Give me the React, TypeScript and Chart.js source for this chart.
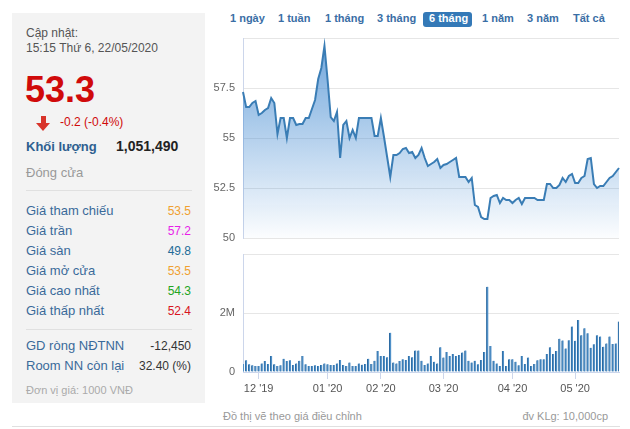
import React, { useEffect, useRef } from "react";
import { Chart, registerables } from "chart.js";

Chart.register(...registerables);

const FONT = "Arial, 'Liberation Sans', Helvetica, sans-serif";

// Trading-day calendar (categories)
const START_DATE = "2019-11-25";
const END_DATE = "2020-05-22";
const HOLIDAYS = [
  "2020-01-01", "2020-01-23", "2020-01-24", "2020-01-27", "2020-01-28", "2020-01-29",
  "2020-04-02", "2020-04-30", "2020-05-01",
];

// Closing prices (x1000 VND), one per trading day
const PRICES = [
  57.3, 56.55, 56.55, 56.75, 56.85, 56.15, 56.25, 56.4, 56.5, 57.0,
  56.75, 55.2, 56.0, 56.0, 55.0, 56.0, 56.0, 55.65, 55.7, 55.7,
  56.0, 56.0, 56.45, 56.9, 57.95, 58.5, 59.6, 57.9, 56.05, 55.85,
  56.3, 54.0, 55.65, 55.85, 55.0, 55.4, 55.0, 56.0, 56.0, 56.0,
  56.0, 56.0, 55.1, 55.1, 56.0, 55.05, 54.05, 53.05, 54.15, 54.15,
  54.25, 54.45, 54.5, 54.25, 54.3, 54.0, 54.15, 54.5, 54.0, 53.6,
  53.7, 53.8, 53.95, 53.5, 53.65, 53.7, 53.8, 53.9, 54.0, 53.05,
  53.05, 53.05, 52.8, 53.0, 51.65, 51.55, 51.05, 50.95, 50.95, 52.0,
  52.1, 52.15, 51.75, 52.0, 51.9, 51.9, 51.75, 51.9, 52.0, 51.7,
  52.0, 52.0, 52.0, 52.0, 51.9, 51.9, 51.9, 52.7, 52.7, 52.5,
  52.5, 52.65, 53.0, 52.8, 53.1, 53.2, 52.75, 52.75, 53.0, 53.1,
  53.95, 54.0, 52.7, 52.5, 52.6, 52.6, 52.8, 53.0, 53.1, 53.3,
  53.5,
];

// Volumes in millions of shares
const VOLUMES = [
  0.27, 0.40, 0.26, 0.23, 0.20, 0.20, 0.29, 0.37, 0.27, 0.54,
  0.26, 0.20, 0.23, 0.45, 0.37, 0.40, 0.24, 0.29, 0.38, 0.54,
  0.26, 0.20, 0.20, 0.23, 0.20, 0.24, 0.29, 0.26, 0.24, 0.24,
  0.29, 0.41, 0.24, 0.20, 0.32, 0.20, 0.20, 0.29, 0.25, 0.27,
  0.45, 0.27, 0.38, 0.71, 0.54, 0.54, 0.50, 1.33, 0.32, 0.29,
  0.37, 0.43, 0.41, 0.54, 0.50, 0.73, 0.73, 0.38, 0.24, 0.29,
  0.54,
  0.35, 0.29, 0.84, 0.49, 0.68, 0.54, 0.61, 0.54, 0.58, 0.66,
  0.73, 0.38, 0.32, 0.38, 0.26, 0.41, 0.68, 2.89, 0.88, 0.38,
  0.29, 0.20, 0.71, 0.20, 0.43, 0.43, 0.35, 0.23, 0.54, 0.27,
  0.49, 0.20, 0.27, 0.40, 0.43, 0.43, 0.61, 0.84, 0.61, 0.71,
  1.13, 1.07, 0.80, 1.08, 1.54, 1.06, 1.76, 1.25, 1.48, 1.31,
  0.82, 0.94, 1.25, 1.20, 0.86, 0.97, 1.20, 0.95, 0.97, 1.71,
];

const PRICE_MIN = 50;
const PRICE_MAX = 60;
const PRICE_STEP = 2.5;
const VOL_MIN = 0;
const VOL_MAX = 4;
const VOL_STEP = 2;

const TABS = ["1 ngày", "1 tuần", "1 tháng", "3 tháng", "6 tháng", "1 năm", "3 năm", "Tất cả"];
const TAB_X = [230, 278, 325, 377, 429, 482, 527, 573];
const ACTIVE_TAB = "6 tháng";

const STATS: [string, string, string][] = [
  ["Giá tham chiếu", "53.5", "#f0a030"],
  ["Giá trần", "57.2", "#e81ee8"],
  ["Giá sàn", "49.8", "#226c98"],
  ["Giá mở cửa", "53.5", "#f0a030"],
  ["Giá cao nhất", "54.3", "#22a522"],
  ["Giá thấp nhất", "52.4", "#d8141e"],
];
const FOREIGN: [string, string][] = [
  ["GD ròng NĐTNN", "-12,450"],
  ["Room NN còn lại", "32.40 (%)"],
];

function tradingDays(): string[] {
  const out: string[] = [];
  const d = new Date(START_DATE + "T00:00:00Z");
  const end = new Date(END_DATE + "T00:00:00Z");
  while (d <= end) {
    const iso = d.toISOString().slice(0, 10);
    const wd = d.getUTCDay();
    if (wd !== 0 && wd !== 6 && !HOLIDAYS.includes(iso)) out.push(iso);
    d.setUTCDate(d.getUTCDate() + 1);
  }
  return out;
}
const DATES = tradingDays();

function monthLabel(i: number): string | null {
  if (i <= 0) return null;
  const cur = DATES[i];
  const prev = DATES[i - 1];
  if (!cur || !prev || cur.slice(5, 7) === prev.slice(5, 7)) return null;
  return cur.slice(5, 7) + " '" + cur.slice(2, 4);
}

function Txt(props: any) {
  const { x, base, size, color, bold, right, children } = props;
  const style: React.CSSProperties = {
    position: "absolute",
    top: base - 0.847 * size,
    fontSize: size,
    lineHeight: size + "px",
    color,
    fontWeight: bold ? "bold" : "normal",
    whiteSpace: "nowrap",
    fontFamily: FONT,
  };
  if (right) style.right = 630 - x;
  else style.left = x;
  return <div style={style}>{children}</div>;
}

const fitY = (s: any) => {
  s.width = 38;
  s.paddingTop = 0;
  s.paddingBottom = 0;
};
const fitX = (s: any) => {
  s.height = 23;
  s.paddingLeft = 0;
  s.paddingRight = 0;
};

export default function App() {
  const priceRef = useRef<HTMLCanvasElement>(null);
  const volRef = useRef<HTMLCanvasElement>(null);

  useEffect(() => {
    document.body.style.margin = "0";
    const tickFont = { family: FONT, size: 11 };
    const priceChart = new Chart(priceRef.current!, {
      type: "line",
      data: {
        labels: DATES,
        datasets: [
          {
            data: PRICES,
            borderColor: "#3a7db5",
            borderWidth: 2,
            pointRadius: 0,
            tension: 0,
            fill: "start",
            backgroundColor: (ctx: any) => {
              const chart = ctx.chart;
              const area = chart.chartArea;
              if (!area) return "rgba(70,140,210,0.3)";
              const g = chart.ctx.createLinearGradient(0, area.top, 0, area.bottom);
              g.addColorStop(0, "rgba(70,140,210,0.78)");
              g.addColorStop(0.5, "rgba(70,140,210,0.4)");
              g.addColorStop(1, "rgba(70,140,210,0.02)");
              return g;
            },
          },
        ],
      },
      options: {
        animation: false,
        responsive: false,
        maintainAspectRatio: false,
        layout: { padding: { top: 8, right: 11, bottom: 7, left: 0 } },
        plugins: { legend: { display: false }, tooltip: { enabled: false } },
        scales: {
          x: { display: false, offset: false },
          y: {
            min: PRICE_MIN,
            max: PRICE_MAX,
            afterFit: fitY,
            ticks: {
              stepSize: PRICE_STEP,
              color: "#666",
              font: tickFont,
              padding: 8,
              callback: (v: any) => (v === PRICE_MAX ? "" : String(v)),
            },
            grid: { color: "#e6e6e6", drawTicks: false },
            border: { display: true, color: "#ccd6eb" },
          },
        },
      },
    } as any);

    const volChart = new Chart(volRef.current!, {
      type: "bar",
      data: {
        labels: DATES,
        datasets: [
          {
            data: VOLUMES,
            backgroundColor: "#4f90c8",
            borderColor: "#2a68a0",
            borderWidth: { left: 1, right: 0, top: 0, bottom: 0 },
            borderSkipped: false,
            barThickness: 2,
          },
        ],
      },
      options: {
        animation: false,
        responsive: false,
        maintainAspectRatio: false,
        layout: { padding: { top: 9, right: 11, bottom: 0, left: 0 } },
        plugins: { legend: { display: false }, tooltip: { enabled: false } },
        scales: {
          x: {
            offset: false,
            afterFit: fitX,
            grid: {
              offset: false,
              drawOnChartArea: false,
              drawTicks: true,
              tickLength: 7,
              tickColor: "#ccd6eb",
              color: "#ccd6eb",
            },
            border: { display: true, color: "#ccd6eb" },
            ticks: {
              autoSkip: false,
              maxRotation: 0,
              minRotation: 0,
              padding: 3,
              color: "#555",
              font: tickFont,
              callback: (_v: any, i: number) => monthLabel(i),
            },
          },
          y: {
            min: VOL_MIN,
            max: VOL_MAX,
            afterFit: fitY,
            ticks: {
              stepSize: VOL_STEP,
              color: "#666",
              font: tickFont,
              padding: 8,
              callback: (v: any) => (v === VOL_MAX ? "" : v === 0 ? "0" : v + "M"),
            },
            grid: { color: "#e6e6e6", drawTicks: false },
            border: { display: true, color: "#ccd6eb" },
          },
        },
      },
    } as any);

    return () => {
      priceChart.destroy();
      volChart.destroy();
    };
  }, []);

  const labelColor = "#3a6a9a";

  return (
    <div
      style={{
        position: "absolute",
        left: 0,
        top: 0,
        width: 630,
        height: 429,
        background: "#fff",
        overflow: "hidden",
        fontFamily: FONT,
      }}
    >
      {/* Left info panel */}
      <div style={{ position: "absolute", left: 12, top: 13, width: 193, height: 390, background: "#f3f3f3" }} />
      <Txt x={26} base={37.5} size={12} color="#555">Cập nhật:</Txt>
      <Txt x={26} base={52.5} size={12} color="#555">15:15 Thứ 6, 22/05/2020</Txt>
      <Txt x={25} base={102} size={36} color="#d00a0a" bold>53.3</Txt>
      <div style={{ position: "absolute", left: 40.5, top: 116, width: 5, height: 7, background: "#d8342a" }} />
      <div
        style={{
          position: "absolute",
          left: 35.5,
          top: 123,
          width: 0,
          height: 0,
          borderLeft: "7.5px solid transparent",
          borderRight: "7.5px solid transparent",
          borderTop: "8px solid #d8342a",
        }}
      />
      <Txt x={60} base={126.5} size={12} color="#d00a0a">-0.2 (-0.4%)</Txt>
      <Txt x={26} base={151} size={13} color="#2e5f90" bold>Khối lượng</Txt>
      <Txt x={116} base={151} size={14} color="#222" bold>1,051,490</Txt>
      <Txt x={26} base={177} size={13} color="#999">Đóng cửa</Txt>
      <div style={{ position: "absolute", left: 26, top: 190, width: 166, height: 1, background: "#e0e0e0" }} />
      {STATS.map(([label, value, color], i) => (
        <React.Fragment key={label}>
          <Txt x={26} base={215 + i * 20} size={13} color={labelColor}>{label}</Txt>
          <Txt x={191} base={215 + i * 20} size={12} color={color} right>{value}</Txt>
        </React.Fragment>
      ))}
      <div style={{ position: "absolute", left: 26, top: 329, width: 166, height: 1, background: "#e0e0e0" }} />
      {FOREIGN.map(([label, value], i) => (
        <React.Fragment key={label}>
          <Txt x={26} base={350 + i * 20} size={13} color={labelColor}>{label}</Txt>
          <Txt x={191} base={350 + i * 20} size={12} color="#333" right>{value}</Txt>
        </React.Fragment>
      ))}
      <Txt x={26} base={394} size={11} color="#aaa">Đơn vị giá: 1000 VNĐ</Txt>

      {/* Period tabs */}
      <div style={{ position: "absolute", left: 423, top: 12, width: 49, height: 15, background: "#3479b7", borderRadius: 3 }} />
      {TABS.map((t, i) => (
        <Txt key={t} x={TAB_X[i]} base={22.7} size={11} color={t === ACTIVE_TAB ? "#fff" : "#3a6ea5"} bold>
          {t}
        </Txt>
      ))}

      {/* Charts */}
      <canvas ref={priceRef} width={425} height={215} style={{ position: "absolute", left: 205, top: 30, width: 425, height: 215 }} />
      <canvas ref={volRef} width={425} height={150} style={{ position: "absolute", left: 205, top: 245, width: 425, height: 150 }} />

      {/* Footer */}
      <Txt x={223} base={420} size={11} color="#999">Đồ thị vẽ theo giá điều chỉnh</Txt>
      <Txt x={608} base={420} size={11} color="#999" right>đv KLg: 10,000cp</Txt>
      <div style={{ position: "absolute", left: 12, top: 426, width: 608, height: 1, background: "#e0e0e0" }} />
    </div>
  );
}
